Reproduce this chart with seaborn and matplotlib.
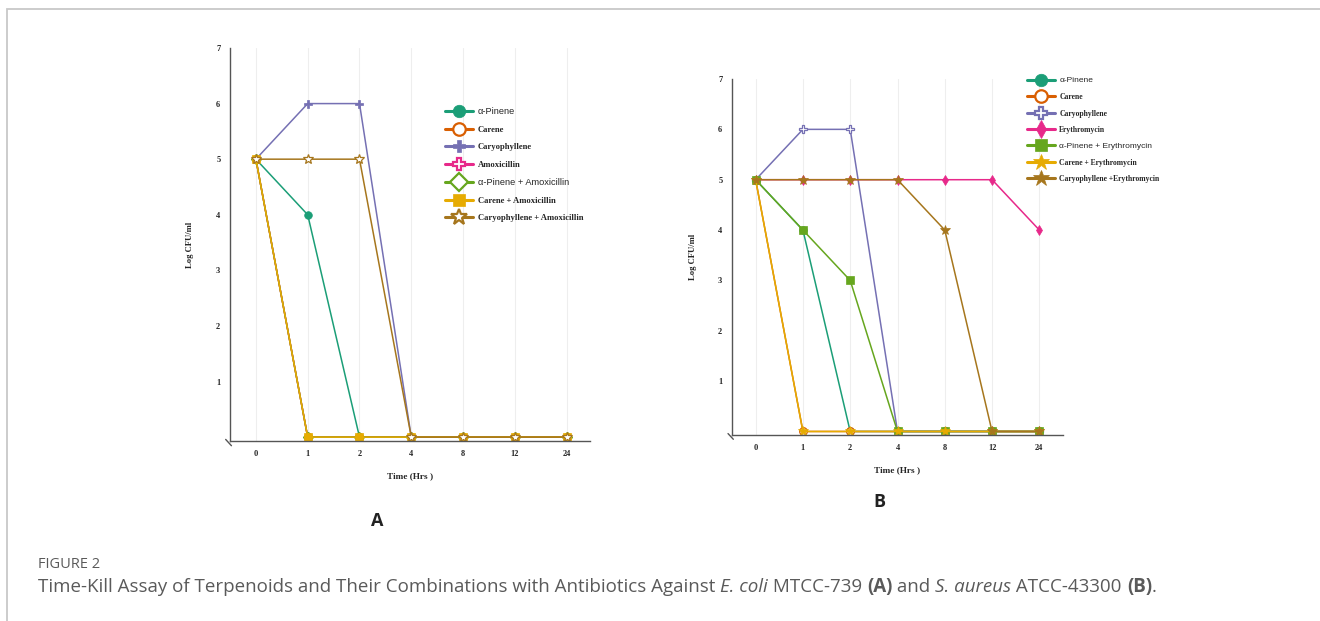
import numpy as np
import pandas as pd
import seaborn as sns
import matplotlib.pyplot as plt
from matplotlib.lines import Line2D
from matplotlib.patches import Rectangle

sns.set_style("white")
plt.rcParams['font.family'] = ['Liberation Serif', 'DejaVu Sans']

# time points (categorical on the x axis)
times = ['0', '1', '2', '4', '8', '12', '24']

# panel A - E. coli
labels_A = ['α-Pinene', 'Carene', 'Caryophyllene', 'Amoxicillin',
            'α-Pinene + Amoxicillin', 'Carene + Amoxicillin', 'Caryophyllene + Amoxicillin']
pinene_A = [5, 4, 0, 0, 0, 0, 0]
carene_A = [5, 0, 0, 0, 0, 0, 0]
caryo_A = [5, 6, 6, 0, 0, 0, 0]
amox_A = [5, 0, 0, 0, 0, 0, 0]
pinene_amox_A = [5, 0, 0, 0, 0, 0, 0]
carene_amox_A = [5, 0, 0, 0, 0, 0, 0]
caryo_amox_A = [5, 5, 5, 0, 0, 0, 0]

# panel B - S. aureus
labels_B = ['α-Pinene', 'Carene', 'Caryophyllene', 'Erythromycin',
            'α-Pinene + Erythromycin', 'Carene + Erythromycin', 'Caryophyllene +Erythromycin']
pinene_B = [5, 4, 0, 0, 0, 0, 0]
carene_B = [5, 0, 0, 0, 0, 0, 0]
caryo_B = [5, 6, 6, 0, 0, 0, 0]
ery_B = [5, 5, 5, 5, 5, 5, 4]
pinene_ery_B = [5, 4, 3, 0, 0, 0, 0]
carene_ery_B = [5, 0, 0, 0, 0, 0, 0]
caryo_ery_B = [5, 5, 5, 5, 4, 0, 0]

colors = ['#1b9e77', '#d95f02', '#7570b3', '#e7298a', '#66a61e', '#e6ab02', '#a6761d']
# (marker, filled?)
marks_A = [('o', True), ('o', False), ('P', True), ('P', False), ('D', False), ('s', True), ('*', False)]
marks_B = [('o', True), ('o', False), ('P', False), ('d', True), ('s', True), ('*', True), ('*', True)]

series_A = [pinene_A, carene_A, caryo_A, amox_A, pinene_amox_A, carene_amox_A, caryo_amox_A]
series_B = [pinene_B, carene_B, caryo_B, ery_B, pinene_ery_B, carene_ery_B, caryo_ery_B]

spine_col = '#555555'


def draw_panel(ax, series, labels, marks, xlim, ylabelpad, leg_anchor, leg_size, leg_space):
    pos = np.arange(len(times))
    for i in range(len(times)):
        ax.axvline(i, color='#eeeeee', lw=0.8, zorder=0)
    for vals, lab, col, (m, filled) in zip(series, labels, colors, marks):
        df = pd.DataFrame({'t': pos, 'v': vals})
        sns.lineplot(data=df, x='t', y='v', ax=ax, color=col, lw=1.1,
                     marker=m, markersize=5.5 if m != '*' else 7,
                     markerfacecolor=col if filled else 'white',
                     markeredgecolor=col, markeredgewidth=0.9 if not filled else 0.5)
    ax.set_xlim(*xlim)
    ax.set_ylim(-0.07, 7)
    ax.set_xticks(pos)
    ax.set_xticklabels(times)
    ax.set_yticks([1, 2, 3, 4, 5, 6, 7])
    for t in ax.get_xticklabels() + ax.get_yticklabels():
        t.set_fontsize(6)
        t.set_fontweight('bold')
        t.set_family('Liberation Serif')
    ax.tick_params(axis='both', direction='out', length=3, width=0.8, color=spine_col, pad=4)
    ax.tick_params(axis='x', pad=3.5)
    for s in ['top', 'right']:
        ax.spines[s].set_visible(False)
    for s in ['left', 'bottom']:
        ax.spines[s].set_color(spine_col)
        ax.spines[s].set_linewidth(1.0)
    ax.set_xlabel('Time (Hrs )', fontsize=6.7, fontweight='bold', labelpad=10)
    ax.set_ylabel('Log CFU/ml', fontsize=6.2, fontweight='bold', labelpad=ylabelpad)
    # axis break mark
    ax.plot([-0.012, 0.004], [0.004, -0.012], transform=ax.transAxes, color=spine_col,
            lw=1.0, clip_on=False)
    handles = []
    for lab, col, (m, filled) in zip(labels, colors, marks):
        handles.append(Line2D([0], [0], color=col, lw=2.2, marker=m,
                              markersize=9 if m != '*' else 12,
                              markerfacecolor=col if filled else 'white',
                              markeredgecolor=col, markeredgewidth=1.6 if not filled else 0.5))
    leg = ax.legend(handles, labels, loc='upper left', bbox_to_anchor=leg_anchor,
                    bbox_transform=fig.transFigure, frameon=False,
                    handlelength=3.6 * 5.5 / leg_size,
                    handletextpad=0.6, labelspacing=leg_space, borderaxespad=0, fontsize=leg_size)
    for t in leg.get_texts():
        if t.get_text().startswith('α-Pinene'):
            t.set_family('Liberation Sans')
            t.set_fontweight('normal')
            t.set_fontsize(leg_size + 0.5)
        else:
            t.set_family('Liberation Serif')
            t.set_fontweight('bold')


fig = plt.figure(figsize=(13.2, 6.21), dpi=100)
W, H = 1320, 621

axA = fig.add_axes([230 / W, 1 - 441 / H, (590 - 230) / W, (441 - 48) / H])
axB = fig.add_axes([732 / W, 1 - 435 / H, (1063 - 732) / W, (435 - 79) / H])

draw_panel(axA, series_A, labels_A, marks_A, (-0.5, 6.45), 16,
           (442 / W, 1 - 104 / H), 6.2, 1.1)
draw_panel(axB, series_B, labels_B, marks_B, (-0.5, 6.5), 15,
           (1024 / W, 1 - 74 / H), 5.5, 1.12)

# panel letters
fig.text(377 / W, 1 - 521 / H, 'A', ha='center', va='center', fontsize=13,
         family='Open Sans', fontweight='bold', color='#222222')
fig.text(879 / W, 1 - 502 / H, 'B', ha='center', va='center', fontsize=13,
         family='Open Sans', fontweight='bold', color='#222222')

# outer frame
fig.patches.append(Rectangle((7 / W, -0.1), 1.2, 1 - 9 / H + 0.1, transform=fig.transFigure,
                             fill=False, edgecolor='#c8c8c8', lw=1.3))

# caption
cap_col = '#5a5a5a'
fig.text(38 / W, 1 - 564 / H, 'FIGURE 2', ha='left', va='center', fontsize=10.5,
         family='Open Sans', color=cap_col)
pieces = [('Time-Kill Assay of Terpenoids and Their Combinations with Antibiotics Against ', 'normal', 'normal'),
          ('E. coli', 'italic', 'normal'), (' MTCC-739 ', 'normal', 'normal'),
          ('(A)', 'normal', 'bold'), (' and ', 'normal', 'normal'),
          ('S. aureus', 'italic', 'normal'), (' ATCC-43300 ', 'normal', 'normal'),
          ('(B)', 'normal', 'bold'), ('.', 'normal', 'normal')]
renderer = fig.canvas.get_renderer()
x = 38
for txt, sty, wt in pieces:
    kw = dict(fontsize=13.5, family='Open Sans', style=sty, fontweight=wt, color=cap_col)
    fig.text(x / W, 1 - 587 / H, txt, ha='left', va='center', **kw)
    a = fig.text(0, 0, 'x' + txt + 'x', **kw)
    b = fig.text(0, 0, 'xx', **kw)
    x += a.get_window_extent(renderer).width - b.get_window_extent(renderer).width
    a.remove()
    b.remove()

fig.savefig('out.png', dpi=100)
